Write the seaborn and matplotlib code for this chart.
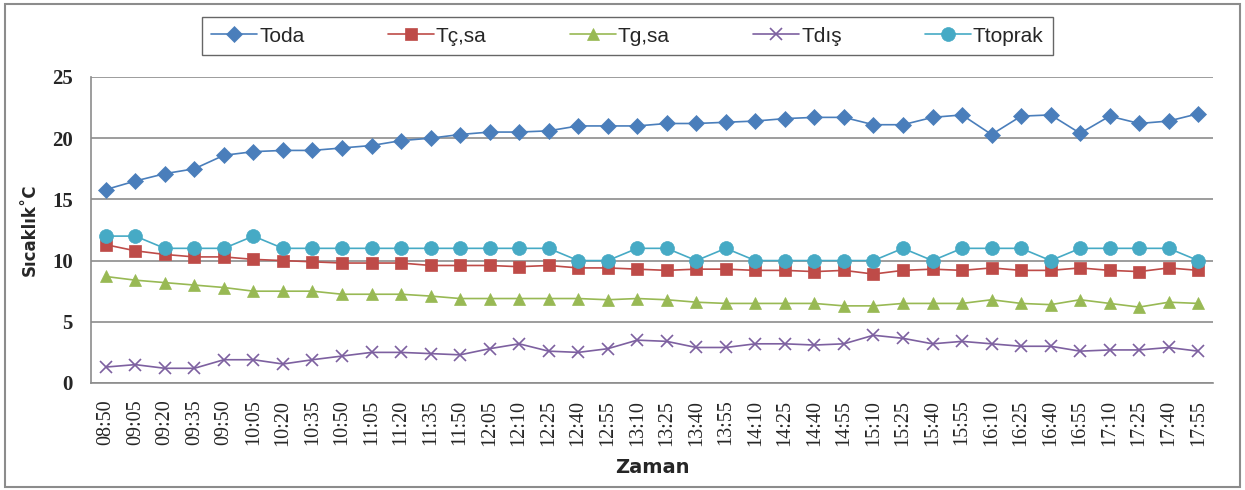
import numpy as np
import pandas as pd
import seaborn as sns
import matplotlib.pyplot as plt
from matplotlib.patches import Rectangle

times = ["08:50", "09:05", "09:20", "09:35", "09:50", "10:05", "10:20", "10:35",
         "10:50", "11:05", "11:20", "11:35", "11:50", "12:05", "12:10", "12:25",
         "12:40", "12:55", "13:10", "13:25", "13:40", "13:55", "14:10", "14:25",
         "14:40", "14:55", "15:10", "15:25", "15:40", "15:55", "16:10", "16:25",
         "16:40", "16:55", "17:10", "17:25", "17:40", "17:55"]

toda = [15.8, 16.5, 17.1, 17.5, 18.6, 18.9, 19.0, 19.0, 19.2, 19.4, 19.8, 20.0,
        20.3, 20.5, 20.5, 20.6, 21.0, 21.0, 21.0, 21.2, 21.2, 21.3, 21.4, 21.6,
        21.7, 21.7, 21.1, 21.1, 21.7, 21.9, 20.3, 21.8, 21.9, 20.4, 21.8, 21.2,
        21.4, 22.0]
tc_sa = [11.3, 10.8, 10.5, 10.3, 10.3, 10.1, 10.0, 9.9, 9.8, 9.8, 9.8, 9.6,
         9.6, 9.6, 9.5, 9.6, 9.4, 9.4, 9.3, 9.2, 9.3, 9.3, 9.2, 9.2,
         9.1, 9.2, 8.9, 9.2, 9.3, 9.2, 9.4, 9.2, 9.2, 9.4, 9.2, 9.1,
         9.4, 9.2]
tg_sa = [8.7, 8.4, 8.2, 8.0, 7.8, 7.5, 7.5, 7.5, 7.25, 7.25, 7.25, 7.1,
         6.9, 6.9, 6.9, 6.9, 6.9, 6.8, 6.9, 6.8, 6.6, 6.5, 6.5, 6.5,
         6.5, 6.3, 6.3, 6.5, 6.5, 6.5, 6.8, 6.5, 6.4, 6.8, 6.5, 6.2,
         6.6, 6.5]
tdis = [1.3, 1.5, 1.2, 1.2, 1.9, 1.9, 1.55, 1.9, 2.2, 2.5, 2.5, 2.4,
        2.3, 2.8, 3.2, 2.6, 2.5, 2.8, 3.5, 3.4, 2.9, 2.9, 3.2, 3.2,
        3.1, 3.2, 3.9, 3.65, 3.2, 3.4, 3.2, 3.0, 3.0, 2.6, 2.7, 2.7,
        2.9, 2.6]
ttoprak = [12, 12, 11, 11, 11, 12, 11, 11, 11, 11, 11, 11,
           11, 11, 11, 11, 10, 10, 11, 11, 10, 11, 10, 10,
           10, 10, 10, 11, 10, 11, 11, 11, 10, 11, 11, 11,
           11, 10]

series = [
    ("Toda", toda, "#4A7EBB", "D", 8),
    ("Tç,sa", tc_sa, "#BE4B48", "s", 8.5),
    ("Tg,sa", tg_sa, "#98B954", "^", 8.5),
    ("Tdış", tdis, "#7D60A0", "x", 9),
    ("Ttoprak", ttoprak, "#46AAC5", "o", 10),
]

sns.set_style("white")
fig = plt.figure(figsize=(12.45, 4.9), dpi=100)
ax = fig.add_axes([0.0731, 0.2184, 0.9012, 0.6245])

x = np.arange(len(times))
for name, vals, color, mk, ms in series:
    df = pd.DataFrame({"x": x, "y": vals})
    sns.lineplot(data=df, x="x", y="y", ax=ax, color=color, marker=mk,
                 markersize=ms, markeredgecolor=color,
                 markeredgewidth=1.2 if mk == "x" else 0.5,
                 linewidth=1.2, label=name)

ax.set_xlim(-0.5, len(times) - 0.5)
ax.set_ylim(0, 25)
ax.set_yticks([0, 5, 10, 15, 20, 25])
ax.yaxis.grid(True, color="#8c8c8c", linewidth=1.2)
ax.xaxis.grid(False)
ax.set_xticks(x)
ax.set_xticklabels(times, rotation=90, family="Liberation Serif", fontsize=14.5)
ax.set_xticks(np.arange(-0.5, len(times)), minor=True)
ax.tick_params(axis="x", which="major", length=0, pad=12)
ax.tick_params(axis="x", which="minor", length=6, color="#8c8c8c", width=1, direction="out")
ax.tick_params(axis="y", length=7, color="#8c8c8c", width=1, direction="out", pad=6)
for lb in ax.get_yticklabels():
    lb.set_family("Liberation Serif")
    lb.set_fontweight("bold")
    lb.set_fontsize(15)

for s in ["top", "right"]:
    ax.spines[s].set_visible(False)
for s in ["left", "bottom"]:
    ax.spines[s].set_color("#8c8c8c")
    ax.spines[s].set_linewidth(1.2)

ax.set_xlabel("Zaman", fontsize=14, fontweight="bold", labelpad=9)
ax.set_ylabel("Sıcaklık˚C", fontsize=12, fontweight="bold", labelpad=10)

ax.legend(loc="center", bbox_to_anchor=(0.504, 0.9265), bbox_transform=fig.transFigure,
          ncol=5, frameon=True, fancybox=False, edgecolor="#404040",
          prop={"family": "Liberation Sans", "size": 15},
          handlelength=2.2, columnspacing=4.0, borderpad=0.45, handletextpad=0.1,
          borderaxespad=0)

fig.patches.append(Rectangle((0.004, 0.006), 0.992, 0.986, transform=fig.transFigure,
                             fill=False, edgecolor="#8c8c8c", linewidth=1.5))

fig.savefig("out.png", dpi=100)
